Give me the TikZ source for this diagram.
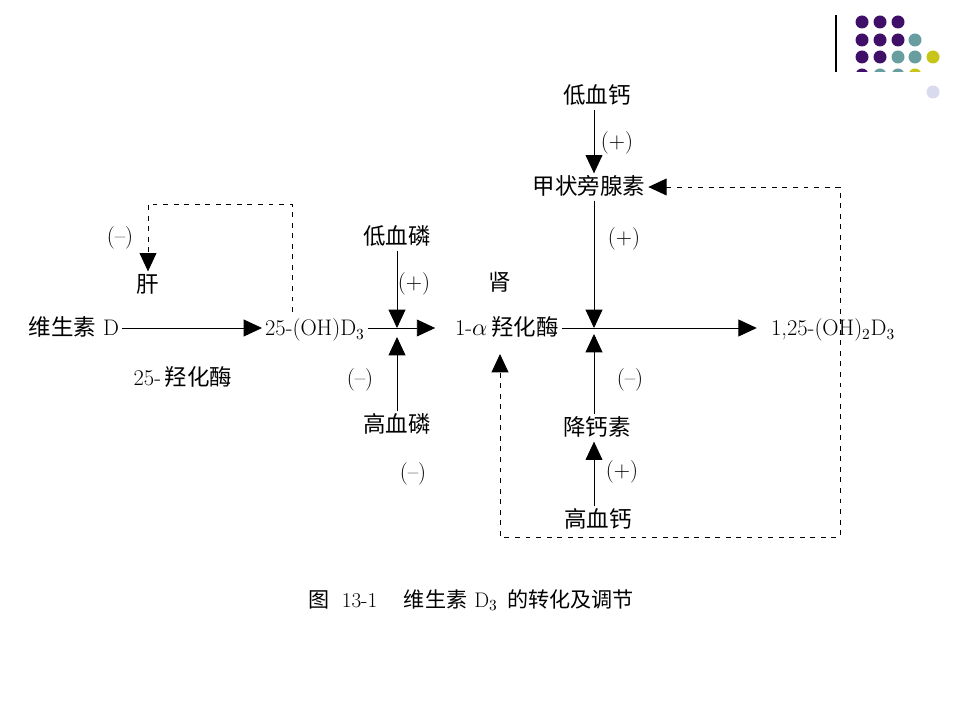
\documentclass[tikz,border=0pt]{standalone}
\usepackage{fontspec}
\usepackage{tikz}
\usetikzlibrary{arrows.meta}
\newfontfamily\cjk{Noto Sans CJK SC}
\definecolor{indigo}{RGB}{64, 16, 104}
\definecolor{cadet}{RGB}{104, 158, 160}
\definecolor{citrine}{RGB}{200, 196, 24}
\definecolor{lavender}{RGB}{218, 218, 238}
\tikzset{
  txt/.style={font=\fontsize{16}{19}\selectfont, inner sep=2pt, text height=13pt, text depth=2pt},
  flow/.style={-{Triangle[length=13pt, width=12pt]}, line width=0.6pt},
  fb/.style={dash pattern=on 3.5pt off 4pt, line width=0.6pt}
}

\begin{document}
\begin{tikzpicture}[x=0.025cm, y=-0.025cm]
            \useasboundingbox                                             (0, 0) rectangle (960, 720);
            \draw[line width=1pt]                                         (836, 15) -- (836, 72);
            \begin{scope}
                \clip                                                     (845, 0) rectangle (950, 72);
                \foreach \x/\y/\c in {862/22/indigo, 880/22/indigo, 898/22/indigo,
                                      862/40/indigo, 880/40/indigo, 898/40/indigo, 915/40/cadet,
                                      862/57/indigo, 880/57/indigo, 898/57/cadet, 915/57/cadet, 933/57/citrine,
                                      862/75/indigo, 880/75/cadet, 898/75/cadet, 915/75/citrine}
                    \fill[\c]                                             (\x, \y) circle (6.5);
            \end{scope}
            \fill[lavender]                                               (933, 92) circle (6.5);

            \node[txt, anchor=east] (vitD)   at (122, 328) {{\cjk 维生素} D};
            \node[txt, anchor=west] (ohd3)   at (262, 328) {25-(OH)D$_3$};
            \node[txt, anchor=west] (alpha)  at (452, 328) {1-$\alpha$\,{\cjk 羟化酶}};
            \node[txt, anchor=west] (d125)   at (768, 328) {1,25-(OH)$_2$D$_3$};
            \node[txt]              (liver)  at (148, 285) {\cjk 肝};
            \node[txt]              (enz25)  at (183, 378) {25-\,{\cjk 羟化酶}};
            \node[txt]              (kidney) at (500, 283) {\cjk 肾};
            \node[txt]              (lowP)   at (397, 237) {\cjk 低血磷};
            \node[txt]              (hiP)    at (397, 425) {\cjk 高血磷};
            \node[txt]              (lowCa)  at (597,  96) {\cjk 低血钙};
            \node[txt]              (pth)    at (589, 187) {\cjk 甲状旁腺素};
            \node[txt]              (ct)     at (597, 428) {\cjk 降钙素};
            \node[txt]              (hiCa)   at (598, 520) {\cjk 高血钙};

            \node[txt]              (sLiver) at (120, 236) {(--)};
            \node[txt]              (sLowP)  at (414, 282) {(+)};
            \node[txt]              (sHiP)   at (360, 378) {(--)};
            \node[txt]              (sHiPb)  at (413, 472) {(--)};
            \node[txt]              (sLowCa) at (617, 141) {(+)};
            \node[txt]              (sPth)   at (624, 237) {(+)};
            \node[txt]              (sCt)    at (630, 378) {(--)};
            \node[txt]              (sHiCa)  at (622, 470) {(+)};

            \node[txt, font=\fontsize{15}{18}\selectfont, anchor=west] (caption) at (305, 600)
                 {{\cjk 图}\hspace{9pt}13-1\hspace{19pt}{\cjk 维生素}\hspace{5pt}D$_3$\hspace{7pt}{\cjk 的转化及调节}};

            \coordinate (j1)    at (397, 328);
            \coordinate (j1u)   at (397, 337);
            \coordinate (j2)    at (594, 328);
            \coordinate (j2u)   at (594, 334);
            \coordinate (ohtop) at (292, 312);
            \coordinate (fbc)   at (840, 537);
            \coordinate (atip)  at (500, 354);

            \draw[flow]                   (vitD.east) -- (ohd3.west);
            \draw[flow, shorten >=12pt]   (ohd3.east) -- (alpha.west);
            \draw[flow, shorten >=8pt]    (alpha.east) -- (d125.west);
            \draw[flow]                   (lowP) -- (j1);
            \draw[flow]                   (hiP) -- (j1u);
            \draw[flow]                   (lowCa.south -| j2) -- (pth.north -| j2);
            \draw[flow]                   (pth.south -| j2) -- (j2);
            \draw[flow]                   (ct.north -| j2) -- (j2u);
            \draw[flow]                   (hiCa.north -| j2) -- (ct.south -| j2);
            \draw[fb, flow]               (ohtop) -- ++(0, -108) -| (liver.north);
            \draw[fb, {Triangle[length=13pt, width=12pt]}-{Triangle[length=13pt, width=12pt]}]
                                          (pth.east) -| (fbc) -| (atip);
        \end{tikzpicture}
\end{document}
